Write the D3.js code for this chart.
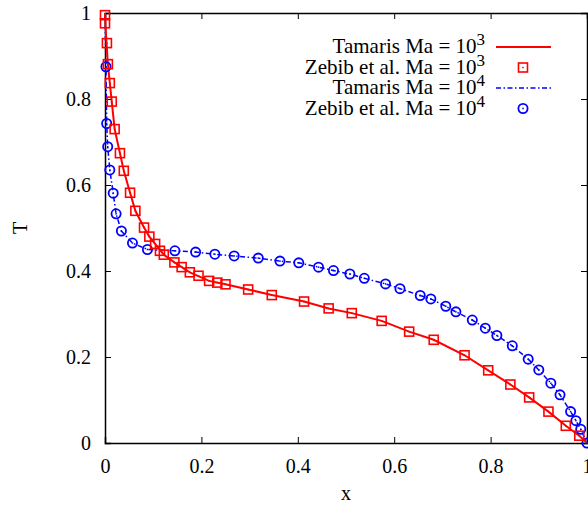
<!DOCTYPE html>
<html><head><meta charset="utf-8">
<script src="https://cdn.jsdelivr.net/npm/d3@7"></script>
<style>
body{margin:0;background:#fff;}
svg{display:block;}
svg text{font-family:'Liberation Serif','Times New Roman',serif;}
</style></head>
<body><div id="chart"></div>
<script>
// Zebib et al. Ma = 10^3 (squares)
const zebib3X = [0.0, 0.0, 0.004, 0.006, 0.010, 0.014, 0.020, 0.031, 0.039, 0.052, 0.063, 0.081, 0.092, 0.104, 0.114, 0.122, 0.144, 0.159, 0.176, 0.194, 0.216, 0.233, 0.250, 0.297, 0.346, 0.413, 0.464, 0.512, 0.574, 0.631, 0.682, 0.746, 0.795, 0.841, 0.880, 0.920, 0.956, 0.984];
const zebib3T = [0.995, 0.976, 0.930, 0.881, 0.837, 0.794, 0.730, 0.674, 0.633, 0.582, 0.540, 0.501, 0.480, 0.463, 0.447, 0.438, 0.420, 0.409, 0.397, 0.389, 0.377, 0.373, 0.369, 0.357, 0.344, 0.329, 0.313, 0.302, 0.284, 0.259, 0.240, 0.204, 0.169, 0.136, 0.106, 0.073, 0.040, 0.017];
// Tamaris Ma = 10^3 (solid line)
const tamaris3X = [0.0, 0.002, 0.006, 0.010, 0.014, 0.020, 0.031, 0.039, 0.052, 0.063, 0.081, 0.092, 0.104, 0.122, 0.144, 0.176, 0.216, 0.250, 0.297, 0.346, 0.413, 0.464, 0.512, 0.574, 0.631, 0.682, 0.746, 0.795, 0.841, 0.880, 0.920, 0.956, 0.984, 1.0];
const tamaris3T = [1.0, 0.950, 0.881, 0.837, 0.794, 0.730, 0.674, 0.633, 0.582, 0.540, 0.501, 0.480, 0.463, 0.438, 0.420, 0.397, 0.377, 0.369, 0.357, 0.344, 0.329, 0.313, 0.302, 0.284, 0.259, 0.240, 0.204, 0.169, 0.136, 0.106, 0.073, 0.040, 0.017, 0.0];
// Zebib et al. Ma = 10^4 (circles)
const zebib4X = [0.002, 0.0035, 0.0056, 0.010, 0.017, 0.023, 0.034, 0.057, 0.088, 0.145, 0.188, 0.228, 0.268, 0.318, 0.363, 0.402, 0.443, 0.474, 0.508, 0.538, 0.582, 0.612, 0.654, 0.676, 0.707, 0.728, 0.762, 0.789, 0.813, 0.845, 0.878, 0.900, 0.925, 0.944, 0.966, 0.977, 0.987, 1.0];
const zebib4T = [0.875, 0.743, 0.689, 0.635, 0.581, 0.533, 0.493, 0.465, 0.450, 0.447, 0.444, 0.439, 0.435, 0.430, 0.423, 0.419, 0.409, 0.401, 0.393, 0.383, 0.370, 0.359, 0.343, 0.335, 0.318, 0.305, 0.286, 0.267, 0.250, 0.226, 0.195, 0.170, 0.139, 0.112, 0.073, 0.052, 0.032, 0.0];
// Tamaris Ma = 10^4 (dash-dot line)
const tamaris4X = [0.0, 0.002, 0.0035, 0.0056, 0.010, 0.017, 0.023, 0.034, 0.057, 0.088, 0.145, 0.188, 0.228, 0.268, 0.318, 0.363, 0.402, 0.443, 0.474, 0.508, 0.538, 0.582, 0.612, 0.654, 0.676, 0.707, 0.728, 0.762, 0.789, 0.813, 0.845, 0.878, 0.900, 0.925, 0.944, 0.966, 0.977, 0.987, 1.0];
const tamaris4T = [1.0, 0.875, 0.743, 0.689, 0.635, 0.581, 0.533, 0.493, 0.465, 0.450, 0.447, 0.444, 0.439, 0.435, 0.430, 0.423, 0.419, 0.409, 0.401, 0.393, 0.383, 0.370, 0.359, 0.343, 0.335, 0.318, 0.305, 0.286, 0.267, 0.250, 0.226, 0.195, 0.170, 0.139, 0.112, 0.073, 0.052, 0.032, 0.0];

const xTicks = [0, 0.2, 0.4, 0.6, 0.8, 1];
const yTicks = [0, 0.2, 0.4, 0.6, 0.8, 1];
const xTickLabels = ["0", "0.2", "0.4", "0.6", "0.8", "1"];
const yTickLabels = ["0", "0.2", "0.4", "0.6", "0.8", "1"];
const legendLabels = [["Tamaris Ma = 10", "3"], ["Zebib et al. Ma = 10", "3"], ["Tamaris Ma = 10", "4"], ["Zebib et al. Ma = 10", "4"]];

const W = 588, H = 509;
const mg = {left: 105, top: 13};
const pw = 482, ph = 430;
const red = "#ff0000", blue = "#0000ff";
const FF = "'Liberation Serif','Times New Roman',serif";

const svg = d3.select("#chart").append("svg").attr("width", W).attr("height", H);
const x = d3.scaleLinear().domain([0, 1]).range([mg.left, mg.left + pw]);
const y = d3.scaleLinear().domain([0, 1]).range([mg.top + ph, mg.top]);

// axes (inward ticks, mirrored)
const tl = 6;
const axB = svg.append("g").attr("transform", `translate(0,${mg.top + ph})`)
  .call(d3.axisBottom(x).tickValues(xTicks).tickSize(-tl).tickPadding(16).tickFormat((d, i) => xTickLabels[i]));
const axL = svg.append("g").attr("transform", `translate(${mg.left},0)`)
  .call(d3.axisLeft(y).tickValues(yTicks).tickSize(-tl).tickPadding(14).tickFormat((d, i) => yTickLabels[i]));
const axT = svg.append("g").attr("transform", `translate(0,${mg.top})`)
  .call(d3.axisTop(x).tickValues(xTicks).tickSize(-tl).tickFormat(""));
const axR = svg.append("g").attr("transform", `translate(${mg.left + pw},0)`)
  .call(d3.axisRight(y).tickValues(yTicks).tickSize(-tl).tickFormat(""));
[axB, axL, axT, axR].forEach(g => {
  g.attr("font-family", FF);
  g.selectAll(".domain").attr("stroke", "#000").attr("stroke-width", 1.5);
  g.selectAll(".tick line").attr("stroke", "#000").attr("stroke-width", 1);
  g.selectAll(".tick text").attr("font-family", FF).attr("font-size", 20).attr("fill", "#000");
});

// axis labels
svg.append("text").attr("x", x(0.5)).attr("y", 500).attr("text-anchor", "middle")
  .attr("font-family", FF).attr("font-size", 20).text("x");
svg.append("text").attr("transform", `translate(27,${y(0.5)}) rotate(-90)`).attr("text-anchor", "middle")
  .attr("font-family", FF).attr("font-size", 20).text("T");

// lines
const line = d3.line().x(d => x(d[0])).y(d => y(d[1]));
const red3 = tamaris3X.map((v, i) => [v, tamaris3T[i]]);
const blue4 = tamaris4X.map((v, i) => [v, tamaris4T[i]]);
svg.append("path").datum(blue4).attr("d", line).attr("fill", "none").attr("stroke", blue)
  .attr("stroke-width", 1.5).attr("stroke-dasharray", "5,2.5,1.5,2.5");
svg.append("path").datum(red3).attr("d", line).attr("fill", "none").attr("stroke", red)
  .attr("stroke-width", 2);

// markers
function square(g, cx, cy) {
  g.append("rect").attr("x", cx - 4.5).attr("y", cy - 4.5).attr("width", 9).attr("height", 9)
    .attr("fill", "none").attr("stroke", red).attr("stroke-width", 1.6);
  g.append("rect").attr("x", cx - 0.75).attr("y", cy - 0.75).attr("width", 1.5).attr("height", 1.5).attr("fill", red);
}
function circ(g, cx, cy) {
  g.append("circle").attr("cx", cx).attr("cy", cy).attr("r", 4.6)
    .attr("fill", "none").attr("stroke", blue).attr("stroke-width", 1.8);
  g.append("rect").attr("x", cx - 0.75).attr("y", cy - 0.75).attr("width", 1.5).attr("height", 1.5).attr("fill", blue);
}
const mk4 = svg.append("g");
zebib4X.forEach((v, i) => circ(mk4, x(v), y(zebib4T[i])));
const mk3 = svg.append("g");
zebib3X.forEach((v, i) => square(mk3, x(v), y(zebib3T[i])));

// legend
const lg = svg.append("g");
const rowY = [47, 67.5, 88, 108.5];
legendLabels.forEach((lab, i) => {
  const t = lg.append("text").attr("x", 485).attr("y", rowY[i] + 6).attr("text-anchor", "end")
    .attr("font-family", FF).attr("font-size", 21);
  t.append("tspan").text(lab[0]);
  t.append("tspan").attr("dy", -8).attr("font-size", 17).text(lab[1]);
});
lg.append("line").attr("x1", 496).attr("x2", 551).attr("y1", rowY[0]).attr("y2", rowY[0])
  .attr("stroke", red).attr("stroke-width", 2);
square(lg, 523, rowY[1]);
lg.append("line").attr("x1", 496).attr("x2", 551).attr("y1", rowY[2]).attr("y2", rowY[2])
  .attr("stroke", blue).attr("stroke-width", 1.5).attr("stroke-dasharray", "5,2.5,1.5,2.5");
circ(lg, 523, rowY[3]);
</script></body></html>
